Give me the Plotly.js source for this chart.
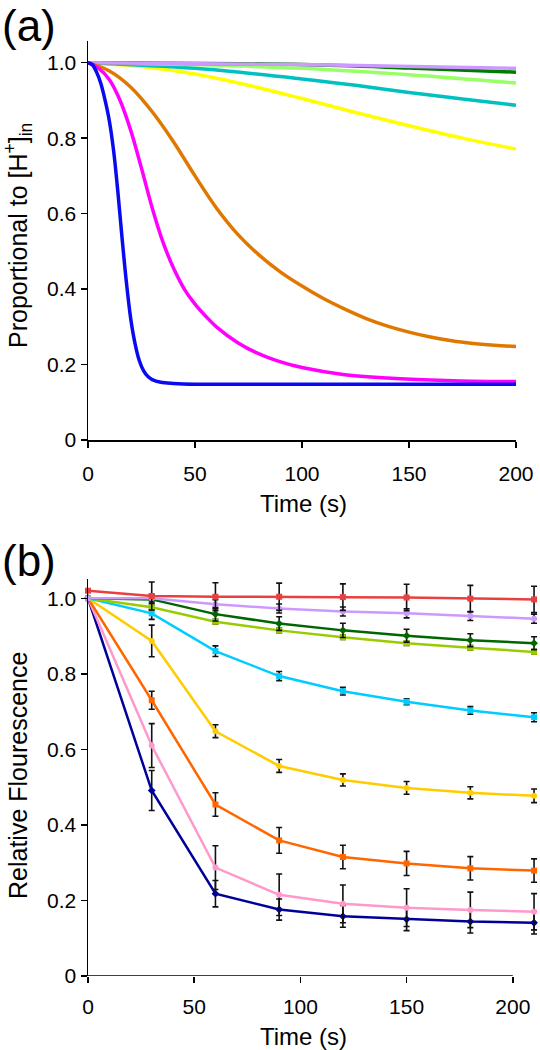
<!DOCTYPE html>
<html>
<head>
<meta charset="utf-8">
<script src="https://cdn.plot.ly/plotly-3.0.1.min.js"></script>
<style>html,body{margin:0;padding:0;background:#fff;}#chart{width:540px;height:1050px;}</style>
</head>
<body>
<div id="chart"></div>
<script>
// ---------- Panel (a): model curves ----------
const aBlueT = [0, 2, 4, 6, 8, 10, 12, 14, 16, 18, 20, 22, 24, 26, 28, 30, 34, 40, 50, 100, 150, 200];
const aBlueY = [1.0, 0.995, 0.975, 0.945, 0.90, 0.845, 0.765, 0.655, 0.53, 0.415, 0.32, 0.255, 0.21, 0.183, 0.168, 0.16, 0.153, 0.15, 0.148, 0.148, 0.148, 0.148];
const aMagentaT = [0, 5, 10, 15, 20, 25, 30, 35, 40, 45, 50, 55, 60, 70, 80, 90, 100, 120, 140, 160, 180, 200];
const aMagentaY = [1.0, 0.985, 0.955, 0.90, 0.82, 0.72, 0.615, 0.525, 0.455, 0.40, 0.36, 0.328, 0.30, 0.258, 0.228, 0.207, 0.192, 0.173, 0.164, 0.159, 0.156, 0.155];
const aOrangeT = [0, 10, 20, 30, 40, 50, 60, 70, 80, 90, 100, 110, 120, 130, 140, 150, 160, 170, 180, 190, 200];
const aOrangeY = [1.0, 0.978, 0.935, 0.87, 0.79, 0.70, 0.615, 0.545, 0.49, 0.445, 0.408, 0.375, 0.347, 0.322, 0.302, 0.286, 0.273, 0.263, 0.256, 0.251, 0.248];
const aYellowT = [0, 25, 50, 75, 100, 125, 150, 175, 200];
const aYellowY = [1.0, 0.99, 0.97, 0.94, 0.905, 0.868, 0.833, 0.80, 0.771];
const aTealT = [0, 50, 100, 125, 150, 175, 200];
const aTealY = [1.0, 0.985, 0.957, 0.94, 0.921, 0.904, 0.887];
const aLightGreenT = [0, 50, 100, 150, 200];
const aLightGreenY = [1.0, 0.995, 0.985, 0.968, 0.946];
const aDarkGreenT = [0, 100, 150, 200];
const aDarkGreenY = [1.0, 0.995, 0.986, 0.975];
const aLavenderT = [0, 100, 200];
const aLavenderY = [1.0, 0.995, 0.985];

// ---------- Panel (b): measured data ----------
const bTime = [0, 30, 60, 90, 120, 150, 180, 210];
const bRed      = [1.02, 1.006, 1.004, 1.004, 1.003, 1.002, 0.999, 0.997];
const bRedErr   = [0, 0.037, 0.037, 0.036, 0.035, 0.035, 0.035, 0.035];
const bLavender = [1.0, 1.0, 0.984, 0.973, 0.965, 0.96, 0.953, 0.946];
const bLavErr   = [0, 0.01, 0.012, 0.012, 0.012, 0.012, 0.012, 0.012];
const bDkGreen  = [1.0, 0.997, 0.958, 0.933, 0.915, 0.901, 0.889, 0.881];
const bDkGrErr  = [0, 0.01, 0.018, 0.018, 0.019, 0.017, 0.017, 0.017];
const bYlGreen  = [1.0, 0.976, 0.938, 0.915, 0.897, 0.881, 0.869, 0.858];
const bYlGrErr  = [0, 0.006, 0.006, 0.006, 0.006, 0.006, 0.006, 0.006];
const bCyan     = [1.0, 0.96, 0.86, 0.794, 0.754, 0.726, 0.703, 0.685];
const bCyanErr  = [0, 0.016, 0.014, 0.012, 0.01, 0.008, 0.01, 0.012];
const bGold     = [1.0, 0.887, 0.648, 0.556, 0.519, 0.498, 0.485, 0.477];
const bGoldErr  = [0, 0.042, 0.017, 0.017, 0.016, 0.017, 0.016, 0.018];
const bOrange   = [1.0, 0.73, 0.454, 0.359, 0.315, 0.298, 0.285, 0.279];
const bOrangeErr= [0, 0.024, 0.031, 0.034, 0.031, 0.032, 0.031, 0.031];
const bPink     = [1.0, 0.61, 0.287, 0.215, 0.191, 0.181, 0.175, 0.17];
const bPinkErr  = [0, 0.058, 0.058, 0.055, 0.05, 0.05, 0.047, 0.048];
const bNavy     = [1.0, 0.491, 0.218, 0.176, 0.158, 0.15, 0.144, 0.141];
const bNavyErr  = [0, 0.053, 0.035, 0.028, 0.029, 0.03, 0.03, 0.03];

const xTicks = [0, 50, 100, 150, 200];
const yTicks = [0, 0.2, 0.4, 0.6, 0.8, 1.0];
const yTickText = ['0', '0.2', '0.4', '0.6', '0.8', '1.0'];

const FONT = 'Liberation Sans, Arial, sans-serif';
const W = 540, H = 1050;

function curve(t, y, color) {
  return {x: t, y: y, type: 'scatter', mode: 'lines', xaxis: 'x', yaxis: 'y',
    line: {color: color, width: 3.5, shape: 'spline', smoothing: 1}, hoverinfo: 'skip'};
}
function meas(y, err, color, symbol) {
  return {x: bTime, y: y, type: 'scatter', mode: 'lines+markers', xaxis: 'x2', yaxis: 'y2',
    line: {color: color, width: 2.5},
    marker: {color: color, size: 6, symbol: symbol},
    error_y: {type: 'data', array: err, visible: true, color: '#111', thickness: 1.6, width: 3},
    cliponaxis: false, hoverinfo: 'skip'};
}

const traces = [
  curve(aYellowT, aYellowY, '#FFFF00'),
  curve(aTealT, aTealY, '#00C0C0'),
  curve(aLightGreenT, aLightGreenY, '#99FF66'),
  curve(aDarkGreenT, aDarkGreenY, '#007A00'),
  curve(aLavenderT, aLavenderY, '#CC99FF'),
  curve(aOrangeT, aOrangeY, '#E07800'),
  curve(aMagentaT, aMagentaY, '#FF00FF'),
  curve(aBlueT, aBlueY, '#0A0AF0'),
  meas(bNavy, bNavyErr, '#000099', 'diamond'),
  meas(bPink, bPinkErr, '#FF99CC', 'circle'),
  meas(bOrange, bOrangeErr, '#FF6600', 'square'),
  meas(bGold, bGoldErr, '#FFCC00', 'circle'),
  meas(bCyan, bCyanErr, '#00CCFF', 'square'),
  meas(bYlGreen, bYlGrErr, '#99CC00', 'square'),
  meas(bDkGreen, bDkGrErr, '#006600', 'diamond'),
  meas(bLavender, bLavErr, '#CC99FF', 'circle'),
  meas(bRed, bRedErr, '#E84040', 'square')
];

const axBase = {
  showgrid: false, zeroline: false, showline: true, linecolor: '#000', linewidth: 1.5,
  ticks: 'outside', ticklen: 6, tickwidth: 1.5, tickcolor: '#000',
  tickfont: {family: FONT, size: 21, color: '#000'}, fixedrange: true
};

const layout = {
  width: W, height: H, margin: {l: 0, r: 0, t: 0, b: 0},
  paper_bgcolor: '#fff', plot_bgcolor: 'rgba(0,0,0,0)', showlegend: false,
  xaxis: Object.assign({}, axBase, {domain: [88 / W, 516 / W], range: [0, 200], tickvals: xTicks, anchor: 'y', ticklabelstandoff: 8}),
  yaxis: Object.assign({}, axBase, {domain: [1 - 440 / H, 1 - 41 / H], range: [0, 1.0575], tickvals: yTicks, ticktext: yTickText, anchor: 'x'}),
  xaxis2: Object.assign({}, axBase, {showline: false, domain: [88 / W, 540 / W], range: [0, 212.8], tickvals: xTicks, anchor: 'y2', ticklabelstandoff: 6}),
  yaxis2: Object.assign({}, axBase, {domain: [1 - 976 / H, 1 - 579 / H], range: [0, 1.051], tickvals: yTicks, ticktext: yTickText, anchor: 'x2'}),
  shapes: [
    {type: 'line', xref: 'x2', yref: 'y2', x0: 0, x1: 200, y0: 0, y1: 0, line: {color: '#000', width: 1.5}}
  ],
  annotations: [
    {text: '(a)', xref: 'paper', yref: 'paper', x: 29 / W, y: 1 - 25 / H, xanchor: 'center', yanchor: 'middle', showarrow: false, font: {family: FONT, size: 44, color: '#000'}},
    {text: '(b)', xref: 'paper', yref: 'paper', x: 29 / W, y: 1 - 560 / H, xanchor: 'center', yanchor: 'middle', showarrow: false, font: {family: FONT, size: 44, color: '#000'}},
    {text: 'Time (s)', xref: 'paper', yref: 'paper', x: 303 / W, y: 1 - 503 / H, xanchor: 'center', yanchor: 'middle', showarrow: false, font: {family: FONT, size: 24, color: '#000'}},
    {text: 'Time (s)', xref: 'paper', yref: 'paper', x: 303 / W, y: 1 - 1036 / H, xanchor: 'center', yanchor: 'middle', showarrow: false, font: {family: FONT, size: 24, color: '#000'}},
    {text: 'Proportional to [H<sup>+</sup>]<sub>in</sub>', xref: 'paper', yref: 'paper', x: 18 / W, y: 1 - 236 / H, xanchor: 'center', yanchor: 'middle', textangle: -90, showarrow: false, font: {family: FONT, size: 25, color: '#000'}},
    {text: 'Relative Flourescence', xref: 'paper', yref: 'paper', x: 18 / W, y: 1 - 776 / H, xanchor: 'center', yanchor: 'middle', textangle: -90, showarrow: false, font: {family: FONT, size: 25, color: '#000'}}
  ]
};

Plotly.newPlot('chart', traces, layout, {staticPlot: true, displayModeBar: false});
</script>
</body>
</html>
